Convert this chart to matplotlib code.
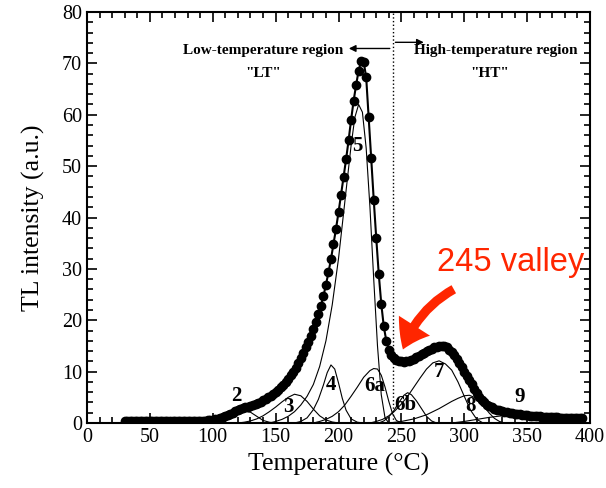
import matplotlib
matplotlib.use("Agg")
import matplotlib.pyplot as plt
import matplotlib.ticker as mticker
from matplotlib.patches import FancyArrowPatch

plt.rcParams['font.family'] = ['Liberation Serif', 'DejaVu Serif']

# measured glow curve (2 degC steps)
temp = list(range(30, 396, 2))
tl = ([0.3] * 26 +
      [0.32, 0.34, 0.36, 0.38, 0.4, 0.43, 0.47, 0.52, 0.56] +
      [0.6, 0.7, 0.8, 0.95, 1.1, 1.3, 1.5, 1.75, 2.0, 2.25,
       2.5, 2.7, 2.9, 3.05, 3.2, 3.35, 3.5, 3.7, 3.9, 4.15,
       4.4, 4.7, 5.0, 5.35, 5.7, 6.1, 6.5, 6.95, 7.4, 7.95,
       8.6, 9.3, 10.0, 10.8, 11.7, 12.7, 13.7, 14.7, 15.8, 17.0] +
      [18.3, 19.7, 21.2, 22.8, 24.7, 26.9, 29.3, 31.9, 34.8, 37.8,
       41.0, 44.4, 47.8, 51.3, 55.0, 59.0, 62.7, 65.8, 68.6, 70.4, 70.3] +
      [67.3, 59.5, 51.5, 43.5, 36.0, 29.0, 23.2, 18.8, 16.0, 14.3,
       13.2, 12.6, 12.3, 12.1, 12.0, 11.95, 12.0, 12.1, 12.3, 12.5] +
      [12.8, 13.1, 13.4, 13.7, 14.0, 14.25, 14.5, 14.7, 14.85, 14.95,
       15.0, 14.9, 14.7, 14.3, 13.8, 13.2, 12.5, 11.7, 10.9, 10.0] +
      [9.2, 8.4, 7.5, 6.6, 5.8, 5.1, 4.5, 4.0, 3.6, 3.3,
       3.05, 2.8, 2.6, 2.45, 2.3, 2.2, 2.1, 2.0, 1.9, 1.8] +
      [1.75, 1.7, 1.6, 1.55, 1.5, 1.45, 1.4, 1.35, 1.3, 1.27,
       1.24, 1.2, 1.18, 1.15, 1.12, 1.1, 1.08, 1.05, 1.03, 1.0,
       0.98, 0.96, 0.95, 0.93, 0.92, 0.9, 0.9])

# deconvoluted components
p2_t = [95, 100, 105, 110, 115, 120, 125, 130, 135, 140, 145, 150]
p2_i = [0, 0.1, 0.3, 0.7, 1.3, 1.9, 2.3, 2.1, 1.3, 0.5, 0.15, 0]
p3_t = [120, 125, 130, 135, 140, 145, 150, 155, 160, 165, 170, 175, 180, 185, 190, 195, 200]
p3_i = [0, 0.15, 0.4, 0.8, 1.4, 2.2, 3.1, 4.1, 5.0, 5.6, 5.3, 4.2, 2.7, 1.4, 0.6, 0.2, 0]
p4_t = [165, 170, 175, 180, 184, 188, 191, 194, 197, 200, 203, 206, 210, 215, 220]
p4_i = [0, 0.3, 1.0, 2.6, 4.6, 7.4, 9.8, 11.3, 10.5, 7.8, 4.8, 2.5, 0.8, 0.15, 0]
p5_t = [145, 150, 155, 160, 165, 170, 175, 180, 185, 190, 195, 200, 205, 210,
        213, 216, 219, 222, 225, 228, 231, 234, 237, 240]
p5_i = [0, 0.3, 0.7, 1.3, 2.2, 3.5, 5.2, 7.5, 11, 16, 23, 32, 43, 54,
        59.5, 62, 60.5, 53.5, 42, 28, 15, 5.5, 1, 0]
p6a_t = [180, 185, 190, 195, 200, 205, 210, 215, 220, 225, 228, 231, 234, 237, 240, 243, 246, 250]
p6a_i = [0, 0.3, 0.7, 1.3, 2.2, 3.5, 5.2, 7.0, 8.9, 10.2, 10.6, 10.5, 9.3, 7.0, 4.2, 1.8, 0.5, 0]
p6b_t = [232, 236, 240, 244, 248, 252, 255, 258, 262, 266, 270, 274, 278]
p6b_i = [0, 0.4, 1.2, 2.4, 4.0, 5.4, 5.9, 5.5, 4.3, 2.8, 1.3, 0.4, 0]
p7_t = [225, 230, 235, 240, 245, 250, 255, 260, 265, 270, 275, 280, 285, 290, 295, 300, 305, 310, 315]
p7_i = [0, 0.3, 0.7, 1.4, 2.4, 3.7, 5.2, 7.0, 8.8, 10.5, 11.7, 12.1, 11.5, 10.3, 8.0, 5.2, 2.5, 0.7, 0]
p8_t = [240, 250, 260, 270, 280, 285, 290, 295, 300, 304, 308, 312, 316, 320, 324, 328, 332]
p8_i = [0, 0.3, 0.8, 1.6, 2.8, 3.5, 4.2, 4.8, 5.3, 5.4, 5.0, 4.2, 3.1, 1.9, 0.9, 0.3, 0]
p9_t = [290, 300, 310, 320, 330, 340, 350, 360, 370, 380]
p9_i = [0, 0.3, 0.7, 1.1, 1.4, 1.3, 0.9, 0.4, 0.1, 0]

peak_names = ['2', '3', '4', '5', '6a', '6b', '7', '8', '9']
label_t = [119, 160, 194, 215, 229, 253, 280, 305, 344]
label_i = [5.3, 3.1, 7.4, 53.9, 7.2, 3.5, 9.9, 3.3, 5.0]

fig = plt.figure(figsize=(6.06, 4.88), dpi=100)
ax = fig.add_axes([0.1436, 0.1332, 0.830, 0.8422])

comps = [(p2_t, p2_i), (p3_t, p3_i), (p4_t, p4_i), (p5_t, p5_i), (p6a_t, p6a_i),
         (p6b_t, p6b_i), (p7_t, p7_i), (p8_t, p8_i), (p9_t, p9_i)]
for t, i in comps:
    ax.plot(t, i, color='black', linewidth=0.8)

ax.plot(temp, tl, color='black', linewidth=1.5, marker='o', markersize=6,
        markerfacecolor='black', markeredgecolor='black')

for name, x, y in zip(peak_names, label_t, label_i):
    ax.text(x, y, name, fontsize=15, fontweight='bold', ha='center', va='center')

# LT / HT border
ax.axvline(243, color='black', linestyle=':', linewidth=1)
ax.text(140, 72.6, 'Low-temperature region', fontsize=11, fontweight='bold',
        ha='center', va='center')
ax.text(140, 68.1, '"LT"', fontsize=11, fontweight='bold', ha='center', va='center')
ax.text(325, 72.6, 'High-temperature region', fontsize=11, fontweight='bold',
        ha='center', va='center')
ax.text(320, 68.1, '"HT"', fontsize=11, fontweight='bold', ha='center', va='center')
ax.annotate('', xy=(206, 72.9), xytext=(243, 72.9),
            arrowprops=dict(arrowstyle='-|>', color='black', lw=1, mutation_scale=10))
ax.annotate('', xy=(270, 74.1), xytext=(243, 74.1),
            arrowprops=dict(arrowstyle='-|>', color='black', lw=1, mutation_scale=10))

# valley annotation
ax.text(336.5, 31.2, '245 valley', fontsize=23.5, color='#ff2600',
        family=['Liberation Sans', 'DejaVu Sans'], ha='center', va='center')
arr = FancyArrowPatch((293.6, 26.3), (250.5, 13.8),
                      connectionstyle='arc3,rad=0.2',
                      arrowstyle='simple,head_length=1.0,head_width=1.4,tail_width=0.35',
                      mutation_scale=19, color='#ff2600', linewidth=0)
ax.add_patch(arr)

ax.set_xlim(0, 400)
ax.set_ylim(0, 80)
ax.xaxis.set_major_locator(mticker.MultipleLocator(50))
ax.xaxis.set_minor_locator(mticker.MultipleLocator(10))
ax.yaxis.set_major_locator(mticker.MultipleLocator(10))
ax.yaxis.set_minor_locator(mticker.MultipleLocator(2))
ax.tick_params(which='both', direction='in', top=True, right=True, labelsize=14.5, width=1.2)
ax.tick_params(which='major', length=7)
ax.tick_params(which='minor', length=4)
for s in ax.spines.values():
    s.set_linewidth(1.5)

ax.set_xlabel('Temperature (°C)', fontsize=18.5, labelpad=4)
ax.set_ylabel('TL intensity (a.u.)', fontsize=18.5, labelpad=12)

fig.savefig('out.png', dpi=100)
